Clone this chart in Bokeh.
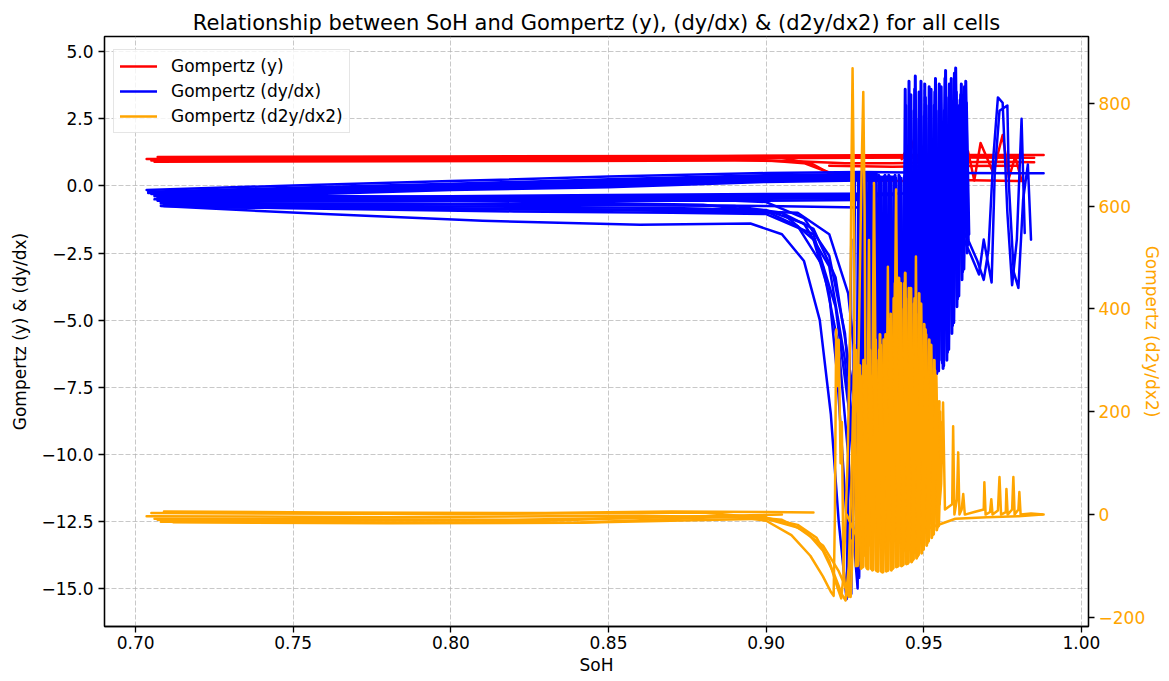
from bokeh.plotting import figure
from bokeh.models import (Range1d, LinearAxis, FixedTicker, CustomJSTickFormatter,
                          Legend, LegendItem, ColumnDataSource)
from bokeh.embed import file_html
from bokeh.resources import INLINE

FONT = "DejaVu Sans"

title_text = "Relationship between SoH and Gompertz (y), (dy/dx) & (d2y/dx2) for all cells"
x_ticks = [0.70, 0.75, 0.80, 0.85, 0.90, 0.95, 1.00]
left_ticks = [5.0, 2.5, 0.0, -2.5, -5.0, -7.5, -10.0, -12.5, -15.0]
right_ticks = [-200, 0, 200, 400, 600, 800]
labels = ["Gompertz (y)", "Gompertz (dy/dx)", "Gompertz (d2y/dx2)"]

# ---- Gompertz (y) per cell ----
red_xs = [
    [0.7035, 0.75, 0.80, 0.85, 0.90, 0.93, 0.96, 0.988],
    [0.705, 0.75, 0.80, 0.85, 0.90, 0.93, 0.96, 0.985],
    [0.706, 0.78, 0.84, 0.89, 0.91, 0.925, 0.94, 0.96, 0.975, 0.985],
    [0.708, 0.80, 0.88, 0.905, 0.915, 0.922, 0.93, 0.945, 0.96, 0.97, 0.982],
    [0.71, 0.82, 0.895, 0.912, 0.92, 0.928, 0.94],
    [0.707, 0.80, 0.88, 0.92, 0.95, 0.98],
    [0.92, 0.94, 0.96, 0.98],
    [0.943, 0.946, 0.948, 0.950, 0.953, 0.956, 0.958, 0.961, 0.964, 0.966, 0.968, 0.972, 0.975, 0.977, 0.979, 0.981],
]
red_ys = [
    [1.0, 1.02, 1.05, 1.08, 1.12, 1.14, 1.15, 1.15],
    [0.95, 0.96, 0.98, 1.0, 1.03, 1.05, 1.06, 1.05],
    [0.9, 0.92, 0.93, 0.95, 0.92, 0.85, 0.85, 0.88, 0.9, 0.88],
    [1.05, 1.08, 1.1, 1.05, 0.8, 0.35, 0.2, 0.18, 0.22, 0.2, 0.18],
    [0.98, 1.0, 1.0, 0.85, 0.5, 0.3, 0.25],
    [1.08, 1.1, 1.12, 1.13, 1.1, 1.08],
    [0.75, 0.72, 0.74, 0.75],
    [1.0, 1.7, 0.9, 1.5, 0.3, 1.2, 1.8, 0.4, 1.3, 0.2, 1.6, 0.5, 1.9, 0.3, 1.1, 0.2],
]

# ---- Gompertz (dy/dx) per cell ----
blue_xs = [
    [0.7035, 0.75, 0.80, 0.85, 0.90, 0.93, 0.96, 0.988],
    [0.704, 0.75, 0.80, 0.85, 0.90, 0.935],
    [0.704, 0.75, 0.80, 0.85, 0.90, 0.935],
    [0.705, 0.75, 0.80, 0.85, 0.90, 0.935],
    [0.706, 0.75, 0.80, 0.85, 0.90, 0.94],
    [0.706, 0.75, 0.80, 0.85, 0.90, 0.94],
    [0.707, 0.75, 0.80, 0.85, 0.90, 0.94],
    [0.707, 0.75, 0.80, 0.85, 0.90, 0.94],
    [0.706, 0.75, 0.80, 0.85, 0.90, 0.945],
    [0.707, 0.75, 0.80, 0.85, 0.90, 0.94],
    [0.707, 0.75, 0.80, 0.85, 0.90, 0.935],
    [0.708, 0.75, 0.80, 0.85, 0.90, 0.93],
    [0.708, 0.75, 0.80, 0.85, 0.90, 0.93],
    [0.709, 0.76, 0.82, 0.87, 0.90, 0.93],
    [0.709, 0.76, 0.82, 0.87, 0.90, 0.915, 0.922, 0.927, 0.93],
    [0.708, 0.78, 0.84, 0.89, 0.905, 0.915, 0.92, 0.9225, 0.925, 0.927, 0.9276, 0.9282],
    [0.709, 0.76, 0.82, 0.87, 0.90, 0.912, 0.92, 0.925, 0.928, 0.9295, 0.930, 0.931],
    [0.71, 0.77, 0.83, 0.88, 0.91, 0.92, 0.926, 0.93, 0.932, 0.933],
    [0.708, 0.76, 0.81, 0.86, 0.895, 0.905, 0.912, 0.917, 0.9205, 0.923, 0.9255, 0.9262, 0.927],
    [0.71, 0.80, 0.88, 0.90, 0.91, 0.918, 0.923, 0.926, 0.928, 0.929, 0.9298, 0.9305],
    [0.72, 0.85, 0.905, 0.915, 0.922, 0.927, 0.930, 0.932, 0.9328, 0.9335],
    [0.71, 0.80, 0.87, 0.90, 0.912, 0.92, 0.925, 0.928],
    [0.948, 0.955, 0.960, 0.964, 0.967, 0.969, 0.9705, 0.972, 0.9735, 0.975, 0.9765, 0.978, 0.9795, 0.981, 0.982],
    [0.95, 0.958, 0.962, 0.965, 0.9675, 0.969, 0.9715, 0.9725, 0.974, 0.9765, 0.977, 0.9785, 0.980, 0.9815, 0.983, 0.984],
]
blue_ys = [
    [-0.15, 0.02, 0.18, 0.35, 0.48, 0.52, 0.48, 0.47],
    [-0.22, -0.07, 0.08, 0.25, 0.40, 0.45],
    [-0.26, -0.12, 0.04, 0.2, 0.36, 0.42],
    [-0.3, -0.16, 0.0, 0.15, 0.32, 0.38],
    [-0.34, -0.2, -0.04, 0.1, 0.28, 0.34],
    [-0.38, -0.25, -0.08, 0.05, 0.24, 0.3],
    [-0.42, -0.29, -0.12, 0.0, 0.2, 0.26],
    [-0.45, -0.33, -0.15, -0.05, 0.15, 0.22],
    [-0.5, -0.42, -0.38, -0.34, -0.3, -0.28],
    [-0.52, -0.46, -0.42, -0.4, -0.36, -0.34],
    [-0.55, -0.5, -0.47, -0.45, -0.42, -0.4],
    [-0.58, -0.54, -0.52, -0.5, -0.48, -0.46],
    [-0.6, -0.58, -0.56, -0.55, -0.55, -0.52],
    [-0.68, -0.68, -0.7, -0.72, -0.75, -0.8],
    [-0.75, -0.85, -0.95, -1.0, -1.05, -1.8, -4.5, -9.0, -13.0],
    [-0.65, -0.65, -0.68, -0.75, -1.0, -2.0, -4.0, -7.0, -11.5, -15.2, -8.0, 0.5],
    [-0.7, -0.74, -0.78, -0.82, -0.9, -1.4, -3.0, -6.5, -11.0, -14.6, -9.0, -1.0],
    [-0.72, -0.8, -0.86, -0.9, -1.0, -1.8, -4.0, -8.5, -12.5, -5.0],
    [-0.75, -1.05, -1.3, -1.45, -1.4, -1.8, -2.8, -5.0, -8.5, -12.5, -15.4, -10.0, -2.0],
    [-0.45, -0.55, -0.7, -0.95, -1.5, -3.0, -6.0, -10.0, -13.5, -15.0, -6.0, 1.0],
    [-0.8, -0.9, -1.0, -1.6, -3.4, -7.2, -11.0, -14.0, -8.0, 0.0],
    [-0.35, -0.4, -0.45, -0.6, -1.2, -2.6, -5.5, -10.0],
    [-0.3, -0.6, -1.2, -2.0, -2.8, -3.5, -2.4, 1.0, 3.3, 3.1, -1.0, -3.7, -2.0, 2.5, -1.75],
    [-0.5, -1.0, -1.8, -2.6, -3.3, -2.0, -3.6, 0.5, 2.8, 3.0, 0.0, -3.2, -3.8, -0.5, 0.8, -2.0],
]

# dense oscillating (dy/dx) cells in the 0.93-0.965 region
blue_dense_xs = [
    [0.9285, 0.9293, 0.9301, 0.9309, 0.9317, 0.9325, 0.9333, 0.9341, 0.9349, 0.9357, 0.9365, 0.9373,
     0.9381, 0.9389, 0.9397, 0.9405, 0.9413, 0.9421, 0.9429, 0.9437, 0.9445, 0.9453, 0.9461, 0.9469,
     0.9477, 0.9485, 0.9493, 0.9501, 0.9509, 0.9517, 0.9525, 0.9533, 0.9541, 0.9549, 0.9557, 0.9565,
     0.9573, 0.9581, 0.9589, 0.9597, 0.9605, 0.9613, 0.9621, 0.9629, 0.9637],
    [0.9289, 0.9297, 0.9305, 0.9313, 0.9321, 0.9329, 0.9337, 0.9345, 0.9353, 0.9361, 0.9369, 0.9377,
     0.9385, 0.9393, 0.9401, 0.9409, 0.9417, 0.9425, 0.9433, 0.9441, 0.9449, 0.9457, 0.9465, 0.9473,
     0.9481, 0.9489, 0.9497, 0.9505, 0.9513, 0.9521, 0.9529, 0.9537, 0.9545, 0.9553, 0.9561, 0.9569,
     0.9577, 0.9585, 0.9593, 0.9601, 0.9609, 0.9617, 0.9625, 0.9633, 0.9641],
    [0.9287, 0.9295, 0.9303, 0.9311, 0.9319, 0.9327, 0.9335, 0.9343, 0.9351, 0.9359, 0.9367, 0.9375,
     0.9383, 0.9391, 0.9399, 0.9407, 0.9415, 0.9423, 0.9431, 0.9439, 0.9447, 0.9455, 0.9463, 0.9471,
     0.9479, 0.9487, 0.9495, 0.9503, 0.9511, 0.9519, 0.9527, 0.9535, 0.9543, 0.9551, 0.9559, 0.9567,
     0.9575, 0.9583, 0.9591, 0.9599, 0.9607, 0.9615, 0.9623, 0.9631, 0.9639],
    [0.9291, 0.9299, 0.9307, 0.9315, 0.9323, 0.9331, 0.9339, 0.9347, 0.9355, 0.9363, 0.9371, 0.9379,
     0.9387, 0.9395, 0.9403, 0.9411, 0.9419, 0.9427, 0.9435, 0.9443, 0.9451, 0.9459, 0.9467, 0.9475,
     0.9483, 0.9491, 0.9499, 0.9507, 0.9515, 0.9523, 0.9531, 0.9539, 0.9547, 0.9555, 0.9563, 0.9571,
     0.9579, 0.9587, 0.9595, 0.9603, 0.9611, 0.9619, 0.9627, 0.9635, 0.9643],
]
blue_dense_ys = [
    [-13.5, 0.4, -14, 0.3, -13.5, 0.4, -13, 0.3, -12.5, 0.4, -12.5, 0.3,
     -12, 0.4, -12, 0.3, -11.5, 0.4, -11.5, 0.3, -11, 3.9, -10.5, 2.8,
     -10, 3.5, -9.5, 2.6, -8.5, 3.7, -8, 3.0, -7, 3.8, -6.5, 2.8,
     -6.5, 3.8, -5.5, 4.2, -4.5, 3.0, -3.5, 3.7, -2.5],
    [-12.5, 0.3, -13, 0.4, -12.8, 0.3, -12.5, 0.4, -12, 0.3, -12.2, 0.4,
     -11.8, 0.3, -11.5, 0.4, -11, 0.3, -11.2, 3.6, -10.5, 3.0, -10, 4.1,
     -9.5, 2.9, -9, 3.3, -8, 2.5, -7.5, 4.0, -6.5, 3.2, -6.8, 4.3,
     -6, 3.1, -5, 4.4, -4, 3.4, -3, 3.9, -2.0],
    [-13, 0.35, -13.5, 0.35, -13, 0.35, -12.8, 0.35, -12.5, 0.35, -12.3, 0.35,
     -12, 0.35, -11.8, 0.35, -11.5, 0.35, -11.2, 0.35, -10.8, 3.2, -10.2, 3.6,
     -9.8, 2.7, -9.2, 3.8, -8.2, 2.9, -7.8, 3.5, -6.8, 2.6, -6.6, 4.0,
     -6.2, 3.0, -5.2, 3.9, -4.2, 3.2, -3.2, 3.4, -2.2],
    [-12.8, 0.3, -13.2, 0.3, -12.9, 0.3, -12.6, 0.3, -12.2, 0.3, -12.1, 0.3,
     -11.9, 0.3, -11.6, 0.3, -11.3, 0.3, -11.1, 3.0, -10.6, 3.4, -10.1, 2.5,
     -9.6, 3.9, -9.1, 3.0, -8.3, 3.6, -7.6, 2.8, -6.9, 3.7, -6.7, 3.3,
     -6.1, 4.0, -5.1, 3.5, -4.1, 3.8, -3.1, 3.1, -1.8],
]

# ---- Gompertz (d2y/dx2) per cell (right axis) ----
orange_xs = [
    [0.7035, 0.78, 0.86, 0.90, 0.910, 0.916, 0.920, 0.9225, 0.9238, 0.9245, 0.925, 0.9258, 0.9266,
     0.9271, 0.9274, 0.9277, 0.928, 0.9285, 0.929, 0.9295, 0.930],
    [0.705, 0.80, 0.88, 0.905, 0.913, 0.918, 0.9215, 0.924, 0.9252, 0.9262, 0.927, 0.928, 0.929,
     0.9302, 0.9308, 0.9312, 0.9316, 0.932, 0.9325, 0.933],
    [0.706, 0.82, 0.89, 0.90, 0.908, 0.914, 0.918, 0.9205, 0.9214, 0.9218, 0.9222, 0.9226, 0.923,
     0.9236, 0.924, 0.9245, 0.925, 0.9262, 0.9268],
    [0.708, 0.84, 0.90, 0.91, 0.918, 0.923, 0.9255, 0.9268, 0.9275, 0.928, 0.9286, 0.9292],
    [0.9255, 0.930, 0.9335, 0.9342, 0.935, 0.937, 0.9405, 0.9412, 0.942, 0.9445, 0.947, 0.9475, 0.948,
     0.951, 0.954, 0.9545, 0.955, 0.9555, 0.9561, 0.9567, 0.959, 0.9593, 0.9597, 0.9605, 0.9609,
     0.9613, 0.962, 0.9625, 0.963, 0.966, 0.969, 0.9692, 0.9696, 0.971, 0.9714, 0.9718, 0.9735,
     0.974, 0.9745, 0.976, 0.9762, 0.9766, 0.978, 0.9784, 0.9788, 0.980, 0.9803, 0.9807, 0.984, 0.988],
    [0.931, 0.9322, 0.9326, 0.933, 0.937, 0.9383, 0.9386, 0.939, 0.944, 0.95, 0.96, 0.97, 0.98, 0.9875],
    [0.712, 0.78, 0.84, 0.88, 0.90],
    [0.709, 0.76, 0.83, 0.87, 0.90, 0.915],
    [0.707, 0.77, 0.83, 0.87, 0.905],
]
orange_ys = [
    [-3, -5, -2, -6, -20, -45, -90, -140, -163, -120, -40, 100, 350,
     700, 868, 700, 300, -50, -100, 150, -90],
    [3, 1, 4, -10, -35, -70, -115, -155, -167, -100, 50, 330, 200,
     650, 822, 600, 150, -90, 100, -60],
    [-8, -10, -3, -12, -40, -80, -120, -150, -158, 0, 360, 250, 340,
     100, 180, -100, -140, -160, -50],
    [-14, -16, -8, -25, -60, -110, -145, -160, -60, 200, 320, 100],
    [0, -60, 100, 645, 50, -80, 150, 632, 40, -60, 80, 502, 30,
     -20, 50, 209, 20, 60, 218, 10, 20, 172, 0, 30, 121,
     0, 10, 40, 0, 5, 10, 63, 0, 5, 30, 0, 8,
     73, 0, 5, 50, 0, 10, 73, 0, 10, 44, 0, 2, 0],
    [-80, 200, 534, 100, -90, 250, 482, 50, -70, -30, -8, -5, -3, 0],
    [-15, -17, -16, -6, -2],
    [6, 4, 3, 6, 5, 4],
    [-10, -11, -12, -4, 0],
]

# dense oscillating (d2y/dx2) cells in the 0.928-0.955 region
orange_dense_xs = [
    [0.9285, 0.9293, 0.9301, 0.9309, 0.9317, 0.9325, 0.9333, 0.9341, 0.9349, 0.9357, 0.9365, 0.9373,
     0.9381, 0.9389, 0.9397, 0.9405, 0.9413, 0.9421, 0.9429, 0.9437, 0.9445, 0.9453, 0.9461, 0.9469,
     0.9477, 0.9485, 0.9493, 0.9501, 0.9509, 0.9517, 0.9525, 0.9533, 0.9541, 0.9549],
    [0.9289, 0.9297, 0.9305, 0.9313, 0.9321, 0.9329, 0.9337, 0.9345, 0.9353, 0.9361, 0.9369, 0.9377,
     0.9385, 0.9393, 0.9401, 0.9409, 0.9417, 0.9425, 0.9433, 0.9441, 0.9449, 0.9457, 0.9465, 0.9473,
     0.9481, 0.9489, 0.9497, 0.9505, 0.9513, 0.9521, 0.9529, 0.9537, 0.9545, 0.9553],
    [0.9287, 0.9295, 0.9303, 0.9311, 0.9319, 0.9327, 0.9335, 0.9343, 0.9351, 0.9359, 0.9367, 0.9375,
     0.9383, 0.9391, 0.9399, 0.9407, 0.9415, 0.9423, 0.9431, 0.9439, 0.9447, 0.9455, 0.9463, 0.9471,
     0.9479, 0.9487, 0.9495, 0.9503, 0.9511, 0.9519, 0.9527, 0.9535, 0.9543, 0.9551],
    [0.9291, 0.9299, 0.9307, 0.9315, 0.9323, 0.9331, 0.9339, 0.9347, 0.9355, 0.9363, 0.9371, 0.9379,
     0.9387, 0.9395, 0.9403, 0.9411, 0.9419, 0.9427, 0.9435, 0.9443, 0.9451, 0.9459, 0.9467, 0.9475,
     0.9483, 0.9491, 0.9499, 0.9507, 0.9515, 0.9523, 0.9531, 0.9539, 0.9547, 0.9555],
]
orange_dense_ys = [
    [-100, 260, -105, 300, -100, 280, -105, 330, -108, 300, -110, 340,
     -110, 320, -108, 420, -102, 460, -100, 400, -96, 440, -92, 410,
     -85, 430, -75, 370, -60, 340, -45, 300, -30, 220],
    [-95, 290, -100, 250, -105, 320, -108, 290, -110, 350, -112, 310,
     -108, 380, -105, 450, -100, 420, -98, 470, -95, 430, -88, 400,
     -80, 380, -65, 360, -50, 310, -35, 260, -20, 180],
    [-98, 240, -103, 270, -104, 300, -106, 310, -109, 320, -111, 330,
     -109, 360, -106, 400, -101, 430, -99, 450, -95, 410, -90, 420,
     -82, 400, -70, 350, -55, 320, -40, 280, -25, 200],
    [-97, 270, -102, 290, -106, 270, -107, 340, -110, 330, -111, 350,
     -108, 390, -104, 440, -100, 450, -97, 420, -93, 440, -87, 390,
     -78, 410, -68, 350, -52, 330, -38, 270, -22, 150],
]

# ---------------- figure ----------------
p = figure(width=1165, height=677, output_backend="svg", toolbar_location=None,
           x_range=Range1d(0.69014, 1.00223), y_range=Range1d(-16.42, 5.57),
           min_border_left=104, min_border_top=36, min_border_right=74, min_border_bottom=48,
           background_fill_color="white", border_fill_color="white")
p.extra_y_ranges = {"d2": Range1d(-217.6, 929.7)}

p.title.text = title_text
p.title.align = "center"
p.title.text_font = FONT
p.title.text_font_size = "21px"
p.title.text_font_style = "normal"
p.title.text_color = "black"
p.title.standoff = 3

p.outline_line_color = "black"
p.outline_line_width = 1.3

lw = 2.5
line_kw = dict(line_join="round", line_cap="round")
r_red = p.multi_line(xs="xs", ys="ys", source=ColumnDataSource(dict(xs=red_xs, ys=red_ys)),
                     line_color="red", line_width=lw, **line_kw)
r_blue = p.multi_line(xs="xs", ys="ys", source=ColumnDataSource(dict(xs=blue_xs, ys=blue_ys)),
                      line_color="blue", line_width=lw, **line_kw)
p.multi_line(xs="xs", ys="ys", source=ColumnDataSource(dict(xs=blue_dense_xs, ys=blue_dense_ys)),
             line_color="blue", line_width=3.0, **line_kw)
r_orange = p.multi_line(xs="xs", ys="ys", source=ColumnDataSource(dict(xs=orange_xs, ys=orange_ys)),
                        line_color="orange", line_width=lw, y_range_name="d2", **line_kw)
p.multi_line(xs="xs", ys="ys", source=ColumnDataSource(dict(xs=orange_dense_xs, ys=orange_dense_ys)),
             line_color="orange", line_width=3.0, y_range_name="d2", **line_kw)

def style_axis(ax, label, color="black"):
    ax.axis_label = label
    ax.axis_label_text_font = FONT
    ax.axis_label_text_font_size = "17px"
    ax.axis_label_text_font_style = "normal"
    ax.axis_label_text_color = color
    ax.major_label_text_font = FONT
    ax.major_label_text_font_size = "17px"
    ax.major_label_text_color = color
    ax.axis_line_color = "black"
    ax.axis_line_width = 1.3
    ax.major_tick_line_color = "black"
    ax.major_tick_line_width = 1.3
    ax.major_tick_in = 0
    ax.major_tick_out = 6
    ax.minor_tick_line_color = None

xax = p.xaxis[0]
style_axis(xax, "SoH")
xax.ticker = FixedTicker(ticks=x_ticks)
xax.formatter = CustomJSTickFormatter(code="return tick.toFixed(2);")
xax.major_label_standoff = 3
xax.axis_label_standoff = 3

yax = p.yaxis[0]
style_axis(yax, "Gompertz (y) & (dy/dx)")
yax.ticker = FixedTicker(ticks=left_ticks)
yax.formatter = CustomJSTickFormatter(code="return tick.toFixed(1).replace('-', '\u2212');")
yax.major_label_standoff = 5
yax.axis_label_standoff = 8

rax = LinearAxis(y_range_name="d2")
style_axis(rax, "Gompertz (d2y/dx2)", color="orange")
rax.ticker = FixedTicker(ticks=right_ticks)
rax.formatter = CustomJSTickFormatter(code="return tick.toFixed(0).replace('-', '\u2212');")
rax.major_label_standoff = 4
rax.axis_label_standoff = -6
p.add_layout(rax, "right")

for g in (p.xgrid[0], p.ygrid[0]):
    g.grid_line_color = "#b0b0b0"
    g.grid_line_alpha = 0.7
    g.grid_line_dash = "5 2"
    g.grid_line_width = 1

legend = Legend(items=[LegendItem(label=labels[0], renderers=[r_red]),
                       LegendItem(label=labels[1], renderers=[r_blue]),
                       LegendItem(label=labels[2], renderers=[r_orange])],
                location=(9, 493), margin=0, padding=6, spacing=5,
                glyph_width=37, glyph_height=20, label_height=20, label_standoff=14,
                label_text_font=FONT, label_text_font_size="17px", label_text_color="black",
                border_line_color="#cccccc", border_line_width=1,
                background_fill_color="white", background_fill_alpha=0.8)
p.add_layout(legend)

open("out.html", "w").write(file_html(p, INLINE))
